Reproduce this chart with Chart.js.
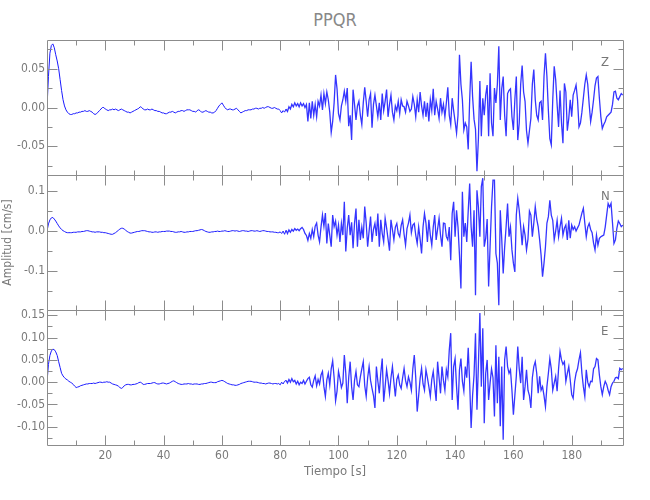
<!DOCTYPE html>
<html>
<head>
<meta charset="utf-8">
<title>PPQR</title>
<script src="https://cdn.jsdelivr.net/npm/chart.js@4.4.1/dist/chart.umd.min.js"></script>
<style>
  body { margin: 0; background: #fff; }
  #wrap { position: relative; width: 650px; height: 500px; overflow: hidden;
          font-family: 'Liberation Sans Narrow', 'DejaVu Sans Condensed', 'Liberation Sans', sans-serif; color: #7a7a7a; }
  #wrap canvas { position: absolute; left: 0; top: 0; }
  #title { position: absolute; left: 0; width: 670px; top: 9px; text-align: center; font-size: 18px; color: #888; }
  .comp { position: absolute; left: 601px; font-size: 13px; color: #777; }
</style>
</head>
<body>
<div id="wrap">
  <div id="title">PPQR</div>
  <canvas id="cZ" width="650" height="500"></canvas>
  <canvas id="cN" width="650" height="500"></canvas>
  <canvas id="cE" width="650" height="500"></canvas>
  <div class="comp" style="top:54px">Z</div>
  <div class="comp" style="top:188px">N</div>
  <div class="comp" style="top:323px">E</div>
</div>
<script>
// sample interval of the traces (s)
const dt = 0.5;

// vertical component, cm/s, one value every 0.5 s from t = 0
const compZ = [
  0.000, 0.040, 0.070, 0.080, 0.082, 0.077, 0.068, 0.060, 0.050, 0.036, 0.022, 0.010, 0.002, -0.003, -0.006, -0.008, -0.009, -0.009, -0.008, -0.008,
  -0.007, -0.007, -0.006, -0.006, -0.005, -0.005, -0.004, -0.005, -0.005, -0.004, -0.005, -0.006, -0.008, -0.009, -0.008, -0.006, -0.004, -0.002, 0.000, 0.000,
  -0.002, -0.003, -0.004, -0.003, -0.003, -0.002, -0.003, -0.002, -0.003, -0.004, -0.003, -0.002, -0.003, -0.004, -0.005, -0.006, -0.006, -0.007, -0.006, -0.005,
  -0.004, -0.003, -0.002, -0.001, 0.001, 0.000, -0.002, -0.003, -0.003, -0.002, -0.003, -0.003, -0.002, -0.003, -0.004, -0.004, -0.005, -0.005, -0.006, -0.007,
  -0.007, -0.008, -0.008, -0.007, -0.006, -0.006, -0.005, -0.006, -0.007, -0.006, -0.005, -0.005, -0.004, -0.004, -0.005, -0.004, -0.003, -0.003, -0.003, -0.004,
  -0.005, -0.005, -0.006, -0.004, -0.003, -0.004, -0.006, -0.006, -0.005, -0.004, -0.005, -0.006, -0.006, -0.007, -0.007, -0.006, -0.004, -0.001, 0.002, 0.004,
  0.006, 0.003, 0.000, -0.002, -0.003, -0.002, -0.002, -0.003, -0.003, -0.002, -0.001, -0.003, -0.005, -0.007, -0.006, -0.005, -0.004, -0.004, -0.003, -0.003,
  -0.003, -0.002, -0.002, -0.001, -0.001, -0.002, -0.001, -0.001, 0.000, -0.001, 0.000, 0.001, 0.001, 0.000, -0.001, -0.001, 0.000, -0.001, -0.002, -0.002,
  -0.004, -0.007, -0.004, -0.006, -0.002, -0.005, 0.001, -0.002, 0.004, 0.001, 0.006, 0.002, 0.005, 0.001, 0.006, 0.002, 0.005, 0.000, 0.004, -0.018,
  0.006, -0.014, 0.008, -0.010, 0.004, -0.012, 0.008, 0.002, 0.016, -0.003, 0.018, 0.005, 0.020, 0.010, -0.006, -0.032, -0.018, 0.006, 0.042, 0.024,
  -0.008, -0.016, 0.002, 0.010, 0.021, 0.008, 0.025, -0.024, -0.010, -0.042, 0.023, 0.004, -0.016, 0.002, 0.008, -0.010, -0.022, 0.006, 0.026, 0.008,
  -0.012, 0.010, 0.018, -0.026, 0.004, 0.016, 0.002, -0.012, 0.006, -0.016, 0.018, -0.004, 0.008, 0.023, -0.012, 0.004, 0.016, -0.006, -0.016, 0.002,
  -0.004, 0.008, -0.008, 0.010, 0.002, 0.001, -0.006, 0.008, 0.002, -0.005, -0.002, 0.014, 0.004, -0.012, 0.010, -0.006, 0.020, 0.002, -0.010, 0.008,
  -0.012, 0.006, -0.018, 0.010, -0.004, 0.024, -0.010, 0.008, -0.002, -0.014, 0.012, -0.006, 0.004, -0.012, 0.006, 0.026, -0.010, -0.022, 0.012, -0.004,
  -0.018, -0.033, -0.010, 0.068, 0.030, 0.010, -0.029, -0.020, -0.025, -0.054, 0.010, 0.059, 0.014, -0.015, -0.028, -0.082, -0.040, 0.034, -0.037, 0.012,
  -0.010, 0.016, 0.029, -0.037, 0.044, -0.020, -0.037, 0.025, 0.006, 0.030, 0.079, -0.016, 0.024, 0.040, -0.010, -0.037, 0.018, 0.022, 0.024, -0.012,
  -0.029, 0.010, 0.040, -0.042, -0.020, 0.030, 0.054, 0.020, 0.008, -0.030, -0.046, -0.030, -0.014, 0.030, 0.049, 0.010, -0.010, -0.016, 0.006, 0.008,
  -0.016, 0.040, 0.070, 0.040, -0.004, -0.040, -0.048, 0.010, 0.053, 0.036, 0.004, -0.025, 0.022, -0.020, -0.046, 0.031, 0.020, -0.030, -0.014, 0.010,
  -0.012, 0.016, 0.022, 0.029, 0.010, -0.025, -0.020, -0.006, 0.012, 0.030, 0.042, 0.030, 0.004, -0.018, -0.006, 0.010, 0.028, 0.038, 0.040, 0.012,
  -0.012, -0.027, -0.022, -0.018, -0.012, -0.010, -0.008, -0.006, 0.004, 0.020, 0.021, 0.012, 0.010, 0.014, 0.018, 0.016
];

// north component
const compN = [
  0.000, 0.018, 0.028, 0.033, 0.034, 0.030, 0.025, 0.019, 0.013, 0.008, 0.004, 0.001, -0.001, -0.003, -0.004, -0.004, -0.004, -0.004, -0.003, -0.003,
  -0.003, -0.002, -0.002, -0.002, -0.001, -0.001, 0.000, 0.001, 0.001, 0.000, -0.001, -0.002, -0.002, -0.003, -0.002, -0.002, -0.002, -0.003, -0.003, -0.004,
  -0.004, -0.005, -0.006, -0.007, -0.008, -0.008, -0.006, -0.004, -0.001, 0.002, 0.005, 0.007, 0.007, 0.005, 0.002, -0.001, -0.003, -0.005, -0.005, -0.004,
  -0.003, -0.002, -0.001, -0.001, 0.000, 0.001, 0.001, 0.001, 0.000, -0.001, -0.002, -0.002, -0.003, -0.003, -0.002, -0.002, -0.003, -0.002, -0.002, -0.001,
  -0.001, -0.001, 0.000, 0.000, 0.000, -0.001, -0.001, -0.002, -0.003, -0.003, -0.002, -0.002, -0.001, -0.002, -0.003, -0.003, -0.002, -0.002, -0.001, -0.001,
  -0.001, 0.000, 0.001, 0.001, 0.002, 0.003, 0.004, 0.003, 0.001, -0.001, -0.002, -0.003, -0.003, -0.002, -0.002, -0.001, -0.001, 0.000, -0.001, -0.001,
  0.000, 0.000, 0.001, 0.000, -0.001, -0.001, 0.000, 0.001, 0.001, 0.000, 0.001, 0.000, -0.001, 0.000, 0.001, 0.001, 0.000, 0.000, -0.001, 0.000,
  0.001, 0.001, 0.000, 0.000, 0.001, 0.000, -0.001, 0.000, 0.001, 0.001, 0.000, -0.001, -0.001, -0.002, -0.002, -0.002, -0.003, -0.003, -0.004, -0.004,
  -0.002, -0.006, 0.000, -0.008, 0.002, -0.006, 0.003, -0.003, 0.004, 0.000, 0.006, 0.002, 0.005, 0.001, 0.006, 0.009, 0.004, -0.006, -0.011, -0.023,
  -0.006, -0.018, 0.004, -0.014, 0.012, 0.020, -0.010, -0.027, 0.010, 0.040, 0.012, 0.045, -0.031, 0.019, -0.010, -0.039, 0.040, 0.011, 0.025, -0.010,
  0.015, -0.027, 0.019, -0.010, 0.073, -0.051, 0.007, 0.040, -0.010, 0.022, -0.043, 0.020, 0.056, -0.039, 0.028, -0.022, 0.010, -0.018, 0.061, 0.020,
  -0.039, 0.000, 0.036, -0.027, 0.004, 0.019, -0.012, 0.044, -0.039, 0.028, -0.006, -0.027, 0.032, 0.008, -0.020, -0.049, 0.028, 0.004, -0.022, 0.010,
  0.019, -0.006, -0.014, 0.014, 0.028, -0.008, -0.035, 0.006, 0.020, 0.040, -0.004, 0.015, 0.019, -0.010, -0.031, 0.010, -0.020, -0.056, 0.010, 0.044,
  0.020, -0.027, 0.028, -0.010, -0.035, 0.010, 0.040, -0.022, 0.005, 0.032, -0.010, -0.039, 0.020, 0.019, -0.014, -0.022, 0.010, -0.073, 0.044, 0.073,
  -0.014, 0.052, 0.010, -0.060, -0.143, 0.098, -0.014, 0.020, -0.027, 0.050, 0.119, 0.011, -0.039, 0.052, -0.160, 0.102, 0.060, -0.014, 0.111, 0.132,
  -0.039, -0.018, 0.030, -0.138, -0.039, 0.060, 0.127, 0.127, -0.056, -0.080, -0.185, 0.052, -0.020, -0.106, -0.040, 0.011, 0.069, -0.014, 0.010, -0.047,
  -0.080, -0.102, 0.040, 0.082, 0.052, 0.011, -0.035, 0.011, -0.010, -0.047, -0.020, 0.050, 0.040, -0.014, 0.020, 0.061, 0.030, 0.011, -0.022, -0.060,
  -0.114, -0.080, -0.039, 0.020, 0.036, 0.077, 0.040, 0.027, -0.022, 0.000, 0.027, -0.014, 0.011, 0.032, -0.010, 0.007, 0.015, -0.022, 0.027, -0.018,
  0.015, 0.004, 0.011, 0.000, 0.008, 0.015, 0.030, 0.045, 0.057, 0.020, -0.014, 0.010, 0.019, 0.004, -0.004, -0.030, -0.047, -0.010, -0.035, -0.018,
  -0.014, -0.012, -0.010, 0.010, 0.040, 0.069, 0.060, 0.069, 0.020, -0.031, -0.022, 0.007, 0.025, 0.019, 0.011, 0.015
];

// east component
const compE = [
  0.000, 0.040, 0.060, 0.070, 0.074, 0.073, 0.068, 0.060, 0.046, 0.033, 0.020, 0.014, 0.010, 0.007, 0.005, 0.002, 0.000, -0.002, -0.005, -0.009,
  -0.012, -0.011, -0.010, -0.008, -0.007, -0.006, -0.005, -0.004, -0.004, -0.003, -0.003, -0.003, -0.002, -0.003, -0.002, -0.001, 0.000, 0.000, -0.001, 0.000,
  0.000, 0.001, 0.000, 0.000, -0.002, -0.004, -0.005, -0.006, -0.007, -0.009, -0.012, -0.014, -0.012, -0.008, -0.006, -0.005, -0.005, -0.006, -0.006, -0.005,
  -0.005, -0.004, -0.003, -0.001, 0.000, -0.002, -0.005, -0.005, -0.004, -0.003, -0.003, -0.003, -0.002, -0.001, -0.001, -0.003, -0.004, -0.004, -0.003, -0.002,
  -0.002, -0.003, -0.004, -0.003, -0.002, 0.000, 0.002, 0.003, 0.001, -0.001, -0.003, -0.004, -0.005, -0.005, -0.004, -0.004, -0.004, -0.003, -0.004, -0.004,
  -0.005, -0.004, -0.004, -0.004, -0.005, -0.005, -0.004, -0.004, -0.003, -0.003, -0.002, -0.001, 0.000, 0.000, -0.001, -0.001, -0.001, 0.001, 0.002, 0.003,
  0.004, 0.003, 0.001, -0.001, -0.003, -0.004, -0.005, -0.006, -0.006, -0.007, -0.007, -0.006, -0.005, -0.003, -0.002, -0.001, 0.000, 0.001, 0.002, 0.002,
  0.002, 0.001, 0.000, 0.000, 0.000, -0.001, -0.002, -0.002, -0.003, -0.003, -0.004, -0.003, -0.002, -0.002, -0.003, -0.004, -0.003, -0.003, -0.004, -0.003,
  -0.006, 0.000, -0.004, 0.002, 0.004, -0.002, 0.006, 0.000, 0.008, 0.001, 0.004, -0.004, 0.002, -0.006, 0.000, -0.003, 0.004, -0.004, 0.002, 0.008,
  0.011, -0.006, -0.011, 0.004, 0.014, -0.008, 0.006, -0.004, 0.016, 0.024, -0.010, -0.032, 0.005, 0.020, -0.006, 0.030, 0.048, 0.010, -0.042, -0.020,
  0.024, 0.008, -0.012, -0.002, 0.061, 0.020, -0.047, 0.010, 0.046, -0.010, -0.040, 0.004, 0.024, -0.006, -0.010, 0.012, 0.030, 0.046, -0.008, -0.032,
  0.010, 0.035, 0.004, -0.014, -0.030, -0.058, 0.035, 0.002, -0.025, 0.020, 0.053, -0.044, -0.010, 0.028, 0.004, -0.025, 0.010, 0.035, 0.000, -0.032,
  0.006, 0.016, -0.006, -0.014, 0.010, 0.031, 0.004, -0.010, 0.012, 0.000, -0.018, 0.030, 0.061, 0.010, -0.066, -0.030, 0.008, 0.031, -0.004, -0.018,
  0.028, 0.010, -0.010, -0.032, 0.006, 0.024, -0.010, -0.042, 0.046, 0.010, -0.025, 0.035, 0.004, -0.018, 0.028, 0.012, 0.072, 0.110, -0.040, 0.035,
  0.053, -0.010, -0.062, 0.028, 0.053, 0.002, -0.020, 0.035, 0.010, 0.077, -0.002, -0.103, -0.030, 0.016, 0.110, -0.062, 0.040, 0.155, -0.010, 0.121,
  -0.092, 0.020, 0.050, -0.040, -0.002, 0.030, 0.010, -0.077, 0.083, -0.047, 0.057, -0.099, 0.035, -0.129, 0.050, 0.080, 0.035, 0.020, 0.028, -0.018,
  -0.073, -0.030, 0.013, 0.080, 0.030, -0.002, 0.057, -0.040, -0.010, 0.028, -0.018, -0.030, -0.058, 0.010, 0.035, 0.046, 0.020, -0.025, 0.013, -0.018,
  -0.010, -0.030, -0.055, -0.010, 0.020, 0.053, 0.030, -0.018, -0.002, 0.013, -0.020, 0.030, 0.069, 0.050, 0.040, 0.046, 0.002, 0.020, 0.035, 0.005,
  -0.028, -0.036, 0.001, 0.020, 0.030, 0.050, 0.066, 0.020, -0.010, -0.032, 0.028, 0.000, -0.010, 0.002, 0.001, 0.030, 0.035, 0.053, 0.050, 0.016,
  -0.010, -0.028, -0.010, 0.002, -0.005, -0.018, -0.028, -0.010, -0.002, 0.002, 0.010, 0.011, 0.008, 0.031, 0.028, 0.031
];

// axis ticks
const timeMajor = [20, 40, 60, 80, 100, 120, 140, 160, 180];
const timeMinor = [10, 30, 50, 70, 90, 110, 130, 150, 170, 190];
const zMajor = [-0.05, 0.0, 0.05];
const zMinor = [-0.075, -0.025, 0.025, 0.075];
const nMajor = [-0.1, 0.0, 0.1];
const nMinor = [-0.15, -0.05, 0.05];
const eMajor = [-0.10, -0.05, 0.0, 0.05, 0.10, 0.15];
const eMinor = [-0.125, -0.075, -0.025, 0.025, 0.075, 0.125];

// after the S arrival the trace carries fine jitter, drawn as a slightly heavier line
const codaStart = 82;

const fontFamily = "'Liberation Sans Narrow', 'DejaVu Sans Condensed', 'Liberation Sans', sans-serif";
const textColor = '#7a7a7a';
const axisColor = '#8c8c8c';
const traceColor = '#1a1aff';
const codaColor = '#3535ff';

// box around each panel plus inward tick marks on all four sides
const framePlugin = {
    id: 'frame',
    afterDatasetsDraw(chart, args, opts) {
        const { ctx, chartArea: a, scales } = chart;
        const x = scales.x, y = scales.y;
        const L = Math.round(a.left) + 0.5, R = Math.round(a.right) + 0.5;
        const T = Math.round(a.top) + 0.5, B = Math.round(a.bottom) + 0.5;
        ctx.save();
        ctx.strokeStyle = axisColor;
        ctx.lineWidth = 1;
        ctx.beginPath();
        ctx.rect(L, T, R - L, B - T);
        const seg = (x1, y1, x2, y2) => { ctx.moveTo(x1, y1); ctx.lineTo(x2, y2); };
        const yTick = (v, len) => {
            const p = Math.round(y.getPixelForValue(v)) + 0.5;
            seg(L, p, L + len, p);
            seg(R, p, R - len, p);
        };
        const xTick = (v, len) => {
            const p = Math.round(x.getPixelForValue(v)) + 0.5;
            seg(p, T, p, T + len);
            seg(p, B, p, B - len);
        };
        opts.yMajor.forEach(v => yTick(v, 10));
        opts.yMinor.forEach(v => yTick(v, 5));
        timeMajor.forEach(v => xTick(v, 10));
        timeMinor.forEach(v => xTick(v, 5));
        ctx.stroke();
        ctx.restore();
    }
};

function makePanel(canvasId, values, panel) {
    const points = values.map((v, i) => ({ x: i * dt, y: v }));
    const showTime = !!panel.timeAxis;
    return new Chart(document.getElementById(canvasId), {
        type: 'line',
        data: {
            datasets: [{
                data: points,
                borderColor: traceColor,
                borderWidth: 1,
                pointRadius: 0,
                tension: 0,
                fill: false,
                segment: {
                    borderWidth: c => (c.p0.parsed.x >= codaStart ? 1.3 : 1),
                    borderColor: c => (c.p0.parsed.x >= codaStart ? codaColor : traceColor)
                }
            }]
        },
        options: {
            responsive: false,
            animation: false,
            events: [],
            devicePixelRatio: 1,
            layout: { padding: { left: 0, right: 27, top: panel.top, bottom: panel.bottom } },
            plugins: {
                legend: { display: false },
                tooltip: { enabled: false },
                frame: { yMajor: panel.major, yMinor: panel.minor }
            },
            scales: {
                x: {
                    type: 'linear',
                    min: 0,
                    max: 197.6,
                    display: showTime,
                    afterFit: s => { s.height = showTime ? 55 : 0; },
                    afterBuildTicks: s => { s.ticks = timeMajor.map(v => ({ value: v })); },
                    grid: { display: false, drawTicks: false },
                    border: { display: false },
                    ticks: {
                        padding: 4,
                        maxRotation: 0,
                        autoSkip: false,
                        color: textColor,
                        font: { family: fontFamily, size: 12 },
                        callback: v => String(v)
                    },
                    title: {
                        display: showTime,
                        text: 'Tiempo [s]',
                        color: textColor,
                        font: { family: fontFamily, size: 13 },
                        padding: { top: 0, bottom: 21 }
                    }
                },
                y: {
                    type: 'linear',
                    min: panel.min,
                    max: panel.max,
                    afterFit: s => { s.width = 47; },
                    afterBuildTicks: s => { s.ticks = panel.major.map(v => ({ value: v })); },
                    grid: { display: false, drawTicks: false },
                    border: { display: false },
                    ticks: {
                        padding: 2,
                        color: textColor,
                        font: { family: fontFamily, size: 12 },
                        callback: v => v.toFixed(panel.decimals)
                    },
                    title: {
                        display: !!panel.yTitle,
                        text: panel.yTitle || '',
                        color: textColor,
                        font: { family: fontFamily, size: 12 },
                        padding: { top: 1, bottom: 0 }
                    }
                }
            }
        },
        plugins: [framePlugin]
    });
}

makePanel('cZ', compZ, { top: 40, bottom: 325, min: -0.087, max: 0.087, major: zMajor, minor: zMinor, decimals: 2 });
makePanel('cN', compN, { top: 175, bottom: 190, min: -0.197, max: 0.14, major: nMajor, minor: nMinor, decimals: 1, yTitle: 'Amplitud [cm/s]' });
makePanel('cE', compE, { top: 310, bottom: 0, min: -0.141, max: 0.162, major: eMajor, minor: eMinor, decimals: 2, timeAxis: true });
</script>
</body>
</html>
